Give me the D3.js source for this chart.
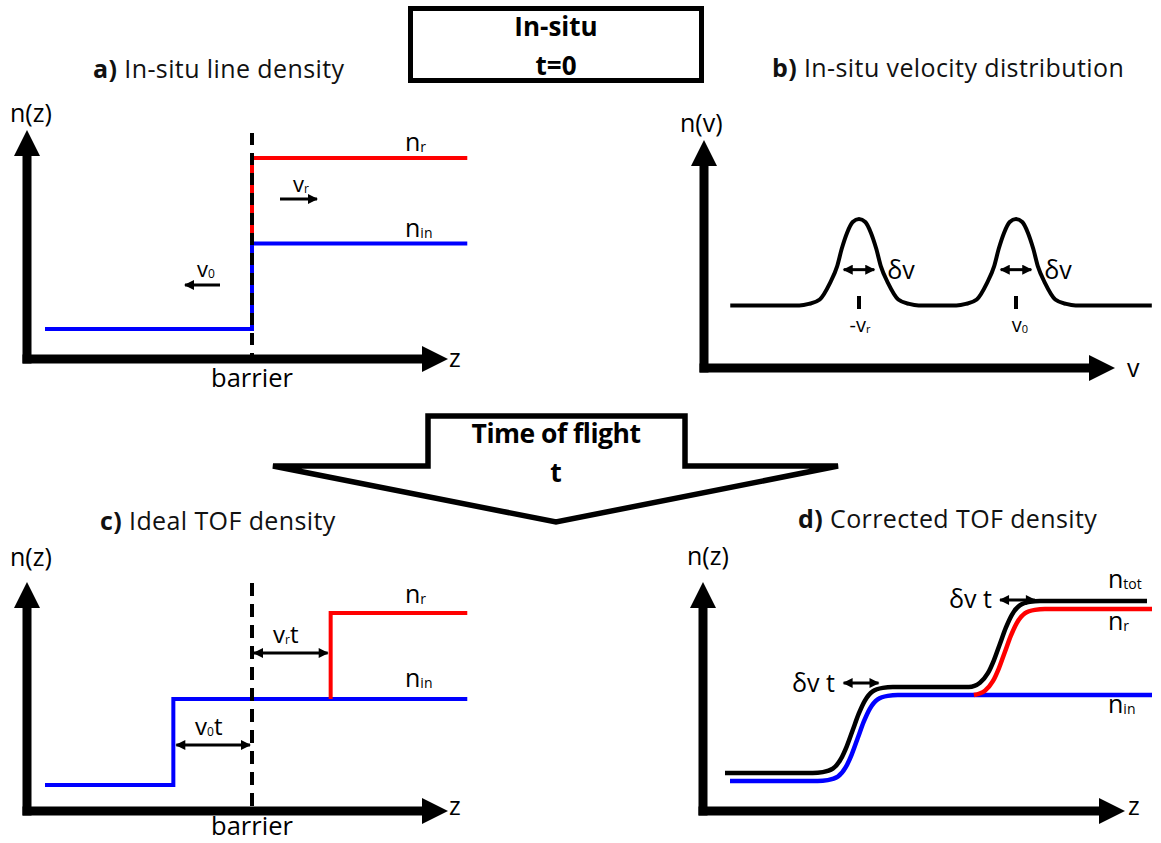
<!DOCTYPE html>
<html>
<head>
<meta charset="utf-8">
<script src="https://cdn.jsdelivr.net/npm/d3@7"></script>
<style>
  html, body { margin: 0; padding: 0; background: #fff; }
  svg { display: block; font-family: "Open Sans", Lato, sans-serif; }
</style>
</head>
<body>
<svg id="fig" width="1161" height="843"></svg>
<script>
// ---------- values ----------
// density levels: left of the step, n_in, n_in + n_r
const densityLevels = [1, 2, 3];
// z range covered by the density lines (barrier at z = 0)
const zLineExtent = [-10, 10.4];
const barrierZ = 0;

// a) in-situ profile
const insituInnerZ = [-10, 0, 0, 10.4];
const insituInnerN = [1, 1, 2, 2];
const insituReflZ = [0, 0, 10.4];
const insituReflN = [2, 3, 3];

// c) ideal time-of-flight profile (steps displaced by -v0 t and +vr t)
const stepShift = [-3.8, 3.8];
const tofInnerZ = [-10, -3.8, -3.8, 10.4];
const tofInnerN = [1, 1, 2, 2];
const tofReflZ = [3.8, 3.8, 10.4];
const tofReflN = [2, 3, 3];

// b) in-situ velocity distribution, two peaks at -vr and v0
const velocityGrid = [-2.64, -1.76, -1.64, -1.50, -1.37, -1.28, -1.22, -1.15, -1.08, -1.00,
  -0.92, -0.85, -0.78, -0.72, -0.63, -0.50, -0.36, -0.24,
  0.24, 0.36, 0.50, 0.63, 0.72, 0.78, 0.85, 0.92, 1.00,
  1.08, 1.15, 1.22, 1.28, 1.37, 1.50, 1.64, 1.76, 2.73];
const velocityDensity = [0.42, 0.42, 0.43, 0.46, 0.57, 0.68, 0.80, 0.91, 0.98, 1.00,
  0.98, 0.91, 0.80, 0.68, 0.57, 0.46, 0.43, 0.42,
  0.42, 0.43, 0.46, 0.57, 0.68, 0.80, 0.91, 0.98, 1.00,
  0.98, 0.91, 0.80, 0.68, 0.57, 0.46, 0.43, 0.42, 0.42];
const velocityPeaks = [-1, 1];
const velocityTickLabels = [["-v", "r"], ["v", "0"]];
const peakHalfWidth = 0.22;     // half of δv, in velocity units
const peakArrowLevel = 0.66;

// d) corrected time-of-flight profile
const corrInnerZ = [-10.4, -5.87, -5.35, -4.83, -4.42, -4.11, -3.8, -3.49, -3.18, -2.77, -2.25, -1.73, 11.4];
const corrInnerN = [1, 1, 1.01, 1.05, 1.16, 1.31, 1.5, 1.69, 1.84, 1.95, 1.99, 2, 2];
const corrReflZ = [2.2, 2.77, 3.18, 3.49, 3.8, 4.11, 4.42, 4.83, 5.35, 5.87, 11.4];
const corrReflN = [2, 2.05, 2.16, 2.31, 2.5, 2.69, 2.84, 2.95, 2.99, 3, 3];
const spreadArrowZ = [-3.63, 4.45];  // centres of the δv t markers
const spreadHalfWidth = 0.9;         // half of δv t, in z units

const BLUE = "#0000ff", RED = "#ff0000", INK = "#000";

// ---------- helpers ----------
const svg = d3.select("#fig");
const defs = svg.append("defs");
defs.append("marker").attr("id", "head")
  .attr("viewBox", "0 0 10 10").attr("refX", 9).attr("refY", 5)
  .attr("markerUnits", "userSpaceOnUse")
  .attr("markerWidth", 11).attr("markerHeight", 10)
  .attr("orient", "auto-start-reverse")
  .append("path").attr("d", "M0,0 L10,5 L0,10 Z").attr("fill", INK);

const zip = (xs, ys) => xs.map((x, i) => [x, ys[i]]);

function axes(g, ox, oy, yTip, xTip) {
  const w = 9, head = 26, half = 13;
  g.append("line").attr("x1", ox).attr("x2", ox)
    .attr("y1", oy + w / 2).attr("y2", yTip + head - 1)
    .attr("stroke", INK).attr("stroke-width", w);
  g.append("line").attr("x1", ox - w / 2).attr("x2", xTip - head + 1)
    .attr("y1", oy).attr("y2", oy)
    .attr("stroke", INK).attr("stroke-width", w);
  g.append("path").attr("fill", INK)
    .attr("d", `M${ox},${yTip} L${ox + half},${yTip + head} L${ox - half},${yTip + head} Z`);
  g.append("path").attr("fill", INK)
    .attr("d", `M${xTip},${oy} L${xTip - head},${oy - half} L${xTip - head},${oy + half} Z`);
}

function subLabel(g, x, y, main, sub, size, subSize, anchor) {
  const t = g.append("text").attr("x", x).attr("y", y)
    .attr("font-size", size).attr("fill", INK)
    .attr("text-anchor", anchor || "start");
  t.append("tspan").text(main);
  if (sub) t.append("tspan").attr("font-size", subSize).attr("dy", 1).text(sub);
  return t;
}

function title(g, x, y, tag, rest) {
  const t = g.append("text").attr("x", x).attr("y", y).attr("font-size", 25)
    .attr("letter-spacing", 0.4).attr("fill", "#111");
  t.append("tspan").attr("font-weight", "bold").text(tag);
  t.append("tspan").text(" " + rest);
}

function arrow(g, x1, x2, y, both) {
  const l = g.append("line").attr("x1", x1).attr("x2", x2).attr("y1", y).attr("y2", y)
    .attr("stroke", INK).attr("stroke-width", 3).attr("marker-end", "url(#head)");
  if (both) l.attr("marker-start", "url(#head)");
}

// ---------- a) in-situ line density ----------
{
  const g = svg.append("g");
  const x = d3.scaleLinear().domain([-10, 10]).range([45, 459]);
  const y = d3.scaleLinear().domain([1, 3]).range([329, 158]);
  const line = d3.line().x(d => x(d[0])).y(d => y(d[1]));
  title(g, 93, 78, "a)", "In-situ line density");
  g.append("text").attr("x", 10).attr("y", 122).attr("font-size", 25).text("n(z)");
  axes(g, 27, 359, 130, 448);
  g.append("text").attr("x", 449).attr("y", 367).attr("font-size", 25).text("z");

  g.append("path").datum(zip(insituInnerZ, insituInnerN)).attr("d", line)
    .attr("fill", "none").attr("stroke", BLUE).attr("stroke-width", 4);
  g.append("path").datum(zip(insituReflZ, insituReflN)).attr("d", line)
    .attr("fill", "none").attr("stroke", RED).attr("stroke-width", 4);
  g.append("line").attr("x1", x(barrierZ)).attr("x2", x(barrierZ))
    .attr("y1", 133).attr("y2", 355)
    .attr("stroke", INK).attr("stroke-width", 4).attr("stroke-dasharray", "12,8");
  g.append("text").attr("x", x(barrierZ)).attr("y", 387).attr("text-anchor", "middle")
    .attr("font-size", 25.5).text("barrier");

  subLabel(g, 405, 151, "n", "r", 25, 14);
  subLabel(g, 405, 237, "n", "in", 25, 14);
  arrow(g, 280, 317, 199, false);
  subLabel(g, 293, 192, "v", "r", 22, 12);
  arrow(g, 220, 185, 285, false);
  subLabel(g, 197, 277, "v", "0", 22, 12);
}

// ---------- centre box ----------
{
  const g = svg.append("g");
  g.append("rect").attr("x", 410.5).attr("y", 8.5).attr("width", 291).attr("height", 72)
    .attr("fill", "#fff").attr("stroke", INK).attr("stroke-width", 5);
  g.append("text").attr("x", 556).attr("y", 36).attr("text-anchor", "middle")
    .attr("font-size", 26).attr("font-weight", "bold").text("In-situ");
  g.append("text").attr("x", 556).attr("y", 75).attr("text-anchor", "middle")
    .attr("font-size", 26).attr("font-weight", "bold").text("t=0");
}

// ---------- b) in-situ velocity distribution ----------
{
  const g = svg.append("g");
  const x = d3.scaleLinear().domain([-1, 1]).range([859, 1016]);
  const y = d3.scaleLinear().domain([0, 1]).range([368, 219]);
  title(g, 772, 77, "b)", "In-situ velocity distribution");
  g.append("text").attr("x", 680).attr("y", 132).attr("font-size", 25).text("n(v)");
  axes(g, 704, 368, 140, 1115);
  g.append("text").attr("x", 1127).attr("y", 377).attr("font-size", 25).text("v");

  g.append("path").datum(zip(velocityGrid, velocityDensity))
    .attr("d", d3.line().x(d => x(d[0])).y(d => y(d[1])).curve(d3.curveMonotoneX))
    .attr("fill", "none").attr("stroke", INK).attr("stroke-width", 4);

  velocityPeaks.forEach((v, i) => {
    arrow(g, x(v - peakHalfWidth) + 2, x(v + peakHalfWidth) - 2, y(peakArrowLevel), true);
    g.append("text").attr("x", x(v + peakHalfWidth) + 11).attr("y", 279)
      .attr("font-size", 25).text("δv");
    g.append("line").attr("x1", x(v)).attr("x2", x(v)).attr("y1", 296).attr("y2", 309)
      .attr("stroke", INK).attr("stroke-width", 4);
    subLabel(g, x(v) + (i === 0 ? 1 : 4), 332, velocityTickLabels[i][0], velocityTickLabels[i][1], 20, 11, "middle");
  });
}

// ---------- time of flight arrow ----------
{
  const g = svg.append("g");
  const pts = [[428, 416], [685, 416], [685, 466], [838, 466], [556, 522], [273, 466], [428, 466]];
  g.append("path").attr("d", d3.line()(pts) + "Z")
    .attr("fill", "#fff").attr("stroke", INK).attr("stroke-width", 5.5)
    .attr("stroke-linejoin", "miter");
  g.append("text").attr("x", 556).attr("y", 443).attr("text-anchor", "middle")
    .attr("font-size", 26.5).attr("font-weight", "bold").attr("letter-spacing", -0.5).text("Time of flight");
  g.append("text").attr("x", 556).attr("y", 482).attr("text-anchor", "middle")
    .attr("font-size", 26.5).attr("font-weight", "bold").text("t");
}

// ---------- c) ideal TOF density ----------
{
  const g = svg.append("g");
  const x = d3.scaleLinear().domain([-10, 10]).range([45, 459]);
  const y = d3.scaleLinear().domain([1, 3]).range([785, 613]);
  const line = d3.line().x(d => x(d[0])).y(d => y(d[1]));
  title(g, 100, 530, "c)", "Ideal TOF density");
  g.append("text").attr("x", 10).attr("y", 566).attr("font-size", 25).text("n(z)");
  axes(g, 27, 811, 582, 448);
  g.append("text").attr("x", 449).attr("y", 815).attr("font-size", 25).text("z");

  g.append("path").datum(zip(tofInnerZ, tofInnerN)).attr("d", line)
    .attr("fill", "none").attr("stroke", BLUE).attr("stroke-width", 4);
  g.append("path").datum(zip(tofReflZ, tofReflN)).attr("d", line)
    .attr("fill", "none").attr("stroke", RED).attr("stroke-width", 4);
  g.append("line").attr("x1", x(barrierZ)).attr("x2", x(barrierZ))
    .attr("y1", 583).attr("y2", 808)
    .attr("stroke", INK).attr("stroke-width", 4).attr("stroke-dasharray", "13,8");
  g.append("text").attr("x", x(barrierZ)).attr("y", 835).attr("text-anchor", "middle")
    .attr("font-size", 25.5).text("barrier");

  subLabel(g, 405, 603, "n", "r", 25, 14);
  subLabel(g, 405, 687, "n", "in", 25, 14);

  arrow(g, x(barrierZ) + 2, x(stepShift[1]) - 3, 653, true);
  const lr = subLabel(g, 273, 643, "v", "r", 24, 12);
  lr.append("tspan").attr("dy", -1).text("t");
  arrow(g, x(stepShift[0]) + 3, x(barrierZ) - 2, 745, true);
  const l0 = subLabel(g, 195, 735, "v", "0", 24, 12);
  l0.append("tspan").attr("dy", -1).text("t");
}

// ---------- d) corrected TOF density ----------
{
  const g = svg.append("g");
  const x = d3.scaleLinear().domain([-10.4, 11.4]).range([730, 1152]);
  const y = d3.scaleLinear().domain([1, 3]).range([781, 609]);
  const line = d3.line().x(d => x(d[0])).y(d => y(d[1])).curve(d3.curveMonotoneX);
  title(g, 798, 528, "d)", "Corrected TOF density");
  g.append("text").attr("x", 687).attr("y", 565).attr("font-size", 25).text("n(z)");
  axes(g, 703, 811, 582, 1125);
  g.append("text").attr("x", 1128).attr("y", 815).attr("font-size", 25).text("z");

  const inner = zip(corrInnerZ, corrInnerN);
  const refl = zip(corrReflZ, corrReflN);
  // total density follows n_in up to the second step, then n_in + n_r
  const total = inner.filter(d => d[0] < corrReflZ[0]).concat(refl);

  g.append("path").datum(inner).attr("d", line)
    .attr("fill", "none").attr("stroke", BLUE).attr("stroke-width", 4.5);
  g.append("path").datum(refl).attr("d", line)
    .attr("fill", "none").attr("stroke", RED).attr("stroke-width", 4.5);
  g.append("path").datum(total).attr("d", line).attr("transform", "translate(-5,-8)")
    .attr("fill", "none").attr("stroke", INK).attr("stroke-width", 4.5);

  subLabel(g, 1108, 588, "n", "tot", 25, 14);
  subLabel(g, 1108, 630, "n", "r", 25, 14);
  subLabel(g, 1108, 713, "n", "in", 25, 14);

  arrow(g, x(spreadArrowZ[1] - spreadHalfWidth), x(spreadArrowZ[1] + spreadHalfWidth), 600, true);
  g.append("text").attr("x", 992).attr("y", 608).attr("text-anchor", "end")
    .attr("font-size", 25).text("δv t");
  arrow(g, x(spreadArrowZ[0] - spreadHalfWidth), x(spreadArrowZ[0] + spreadHalfWidth), 683, true);
  g.append("text").attr("x", 835).attr("y", 692).attr("text-anchor", "end")
    .attr("font-size", 25).text("δv t");
}
</script>
</body>
</html>
